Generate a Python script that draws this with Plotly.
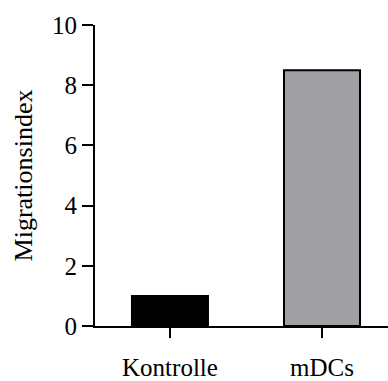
import plotly.graph_objects as go

# Migration index per group
categories = ["Kontrolle", "mDCs"]
values = [1.0, 8.5]
fill_colors = ["#000000", "#a09fa4"]
y_ticks = [0, 2, 4, 6, 8, 10]

FONT = "Times New Roman"

fig = go.Figure(
    go.Bar(
        x=categories,
        y=values,
        width=0.5,
        marker=dict(color=fill_colors, line=dict(color="#000000", width=2)),
    )
)

fig.update_layout(
    width=388,
    height=381,
    margin=dict(l=95, r=0, t=25, b=52),
    paper_bgcolor="white",
    plot_bgcolor="white",
    showlegend=False,
    font=dict(family=FONT, size=25, color="#000000"),
)

fig.update_xaxes(
    range=[-0.493, 1.434],
    showline=True,
    linecolor="#000000",
    linewidth=2,
    ticks="outside",
    ticklen=10,
    tickwidth=2,
    tickcolor="#000000",
    showgrid=False,
    zeroline=False,
    tickfont=dict(family=FONT, size=25),
    ticklabelstandoff=8,
)

fig.update_yaxes(
    range=[0, 10],
    tickvals=y_ticks,
    showline=True,
    linecolor="#000000",
    linewidth=2,
    ticks="outside",
    ticklen=11,
    tickwidth=2,
    tickcolor="#000000",
    showgrid=False,
    zeroline=False,
    tickfont=dict(family=FONT, size=25),
    title=dict(text="Migrationsindex", font=dict(family=FONT, size=26), standoff=12),
)

fig.write_html("out.html")
